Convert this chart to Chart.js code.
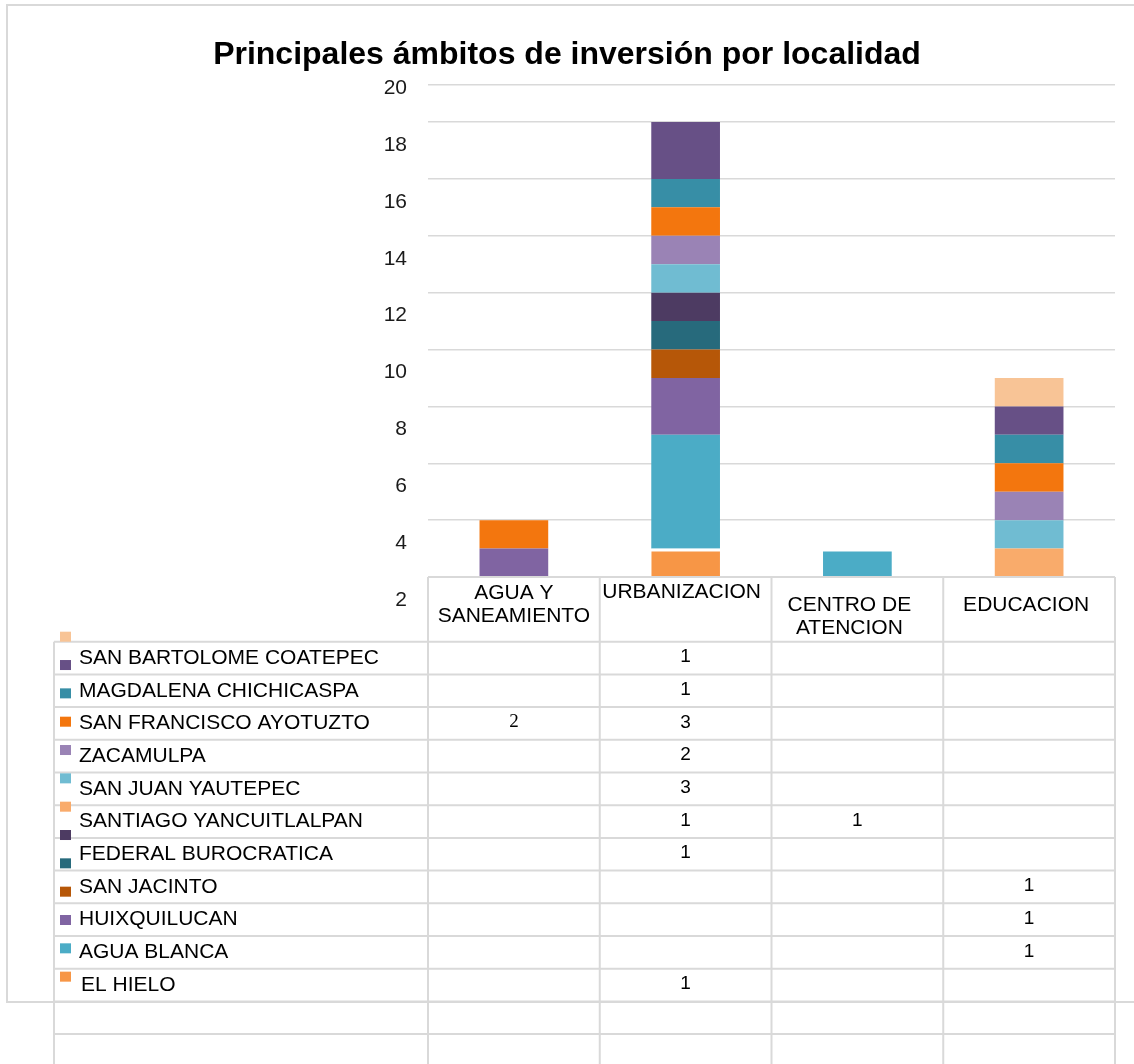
<!DOCTYPE html>
<html>
<head>
<meta charset="utf-8">
<script src="https://cdn.jsdelivr.net/npm/chart.js@4/dist/chart.umd.min.js"></script>
<style>
html,body{margin:0;padding:0;background:#fff;}
#wrap{position:relative;width:1134px;height:1064px;}
</style>
</head>
<body>
<div id="wrap"><canvas id="c" width="1134" height="1064"></canvas></div>
<script>
// ---------- DATA ----------
const categories = [["AGUA Y", "SANEAMIENTO"], ["URBANIZACION"], ["CENTRO DE", "ATENCION"], ["EDUCACION"]];
const yTickValues = [0, 2, 4, 6, 8, 10, 12, 14, 16, 18];
const yTickLabels = ["2", "4", "6", "8", "10", "12", "14", "16", "18", "20"];

// bar series (stack order: bottom first)
const seriesNames = ["EL HIELO", "AGUA BLANCA", "HUIXQUILUCAN", "SAN JACINTO", "FEDERAL BUROCRATICA",
  "SANTIAGO YANCUITLALPAN", "", "SAN JUAN YAUTEPEC", "ZACAMULPA", "SAN FRANCISCO AYOTUZTO",
  "MAGDALENA CHICHICASPA", "SAN BARTOLOME COATEPEC", ""];
const elHielo              = [null, 1, null, null];
const aguaBlanca           = [null, 4, 0.9, null];
const huixquilucan         = [1, 2, null, null];
const sanJacinto           = [null, 1, null, null];
const federalBurocratica   = [null, 1, null, null];
const santiagoYancuitlalpan= [null, 1, null, null];
const sinNombreA           = [null, null, null, 1];
const sanJuanYautepec      = [null, 1, null, 1];
const zacamulpa            = [null, 1, null, 1];
const sanFranciscoAyotuzto = [1, 1, null, 1];
const magdalenaChichicaspa = [null, 1, null, 1];
const sanBartolomeCoatepec = [null, 2, null, 1];
const sinNombreB           = [null, null, null, 1];
const seriesValues = [elHielo, aguaBlanca, huixquilucan, sanJacinto, federalBurocratica,
  santiagoYancuitlalpan, sinNombreA, sanJuanYautepec, zacamulpa, sanFranciscoAyotuzto,
  magdalenaChichicaspa, sanBartolomeCoatepec, sinNombreB];

// data table (text shown under the chart)
const tableRowNames = ["SAN BARTOLOME COATEPEC", "MAGDALENA CHICHICASPA", "SAN FRANCISCO AYOTUZTO",
  "ZACAMULPA", "SAN JUAN YAUTEPEC", "SANTIAGO YANCUITLALPAN", "FEDERAL BUROCRATICA", "SAN JACINTO",
  "HUIXQUILUCAN", "AGUA BLANCA", "EL HIELO", "", ""];
const tblSanBartolome = ["", "1", "", ""];
const tblMagdalena    = ["", "1", "", ""];
const tblSanFrancisco = ["2", "3", "", ""];
const tblZacamulpa    = ["", "2", "", ""];
const tblSanJuan      = ["", "3", "", ""];
const tblSantiago     = ["", "1", "1", ""];
const tblFederal      = ["", "1", "", ""];
const tblSanJacinto   = ["", "", "", "1"];
const tblHuixquilucan = ["", "", "", "1"];
const tblAguaBlanca   = ["", "", "", "1"];
const tblElHielo      = ["", "1", "", ""];
const tblVacia1       = ["", "", "", ""];
const tblVacia2       = ["", "", "", ""];
const tableCells = [tblSanBartolome, tblMagdalena, tblSanFrancisco, tblZacamulpa, tblSanJuan,
  tblSantiago, tblFederal, tblSanJacinto, tblHuixquilucan, tblAguaBlanca, tblElHielo, tblVacia1, tblVacia2];

// ---------- STYLE ----------
const seriesColors = ["#F79646", "#4BACC6", "#8064A2", "#B65708", "#276A7C", "#4D3B62", "#F9AB6B",
  "#70BCD2", "#9A83B5", "#F3760E", "#378EA6", "#675086", "#F8C496"];
const FONT = "'Liberation Sans', Arial, sans-serif";
const GRID = "#D9D9D9";
const topLineValue = 17.33;
const headerTop = [593, 592.5, 605, 605];
const headerShift = [0, -4, -8, -3];
const headerLineH = 23;
const rowTop = 641.7, rowH = 32.7, tableLeft = 54;
const keyTop = 631.7, keyStep = 28.33;

const datasets = seriesValues.map((vals, i) => {
  const ds = {
    label: seriesNames[i] || ("serie " + (i + 1)),
    data: vals,
    backgroundColor: seriesColors[i],
    borderWidth: 0,
    barPercentage: 0.4,
    categoryPercentage: 1.0
  };
  if (i === 0) {
    ds.borderColor = "#ffffff";
    ds.borderWidth = {top: 3, right: 0, bottom: 0, left: 0};
    ds.borderSkipped = false;
  }
  return ds;
});

const tablePlugin = {
  id: 'dataTable',
  beforeDraw(chart) {
    const ctx = chart.ctx;
    ctx.save();
    ctx.strokeStyle = GRID;
    ctx.lineWidth = 2;
    ctx.strokeRect(7, 5, 1160, 997);
    ctx.restore();
  },
  afterDraw(chart) {
    const ctx = chart.ctx;
    const x = chart.scales.x;
    const area = chart.chartArea;
    const n = categories.length;
    const w = (x.right - x.left) / n;
    const bounds = [];
    for (let i = 0; i <= n; i++) bounds.push(x.left + i * w);
    const H = chart.height;
    ctx.save();
    ctx.strokeStyle = GRID;
    ctx.lineWidth = 2;
    ctx.beginPath();
    // header row
    ctx.moveTo(bounds[0], area.bottom); ctx.lineTo(bounds[n], area.bottom);
    bounds.forEach(b => { ctx.moveTo(b, area.bottom); ctx.lineTo(b, rowTop); });
    // rows
    for (let k = 0; k <= tableRowNames.length; k++) {
      const y = rowTop + k * rowH;
      ctx.moveTo(tableLeft, y); ctx.lineTo(bounds[n], y);
    }
    [tableLeft].concat(bounds).forEach(b => { ctx.moveTo(b, rowTop); ctx.lineTo(b, H); });
    ctx.stroke();

    // header texts
    ctx.fillStyle = "#000";
    ctx.font = "21px " + FONT;
    ctx.textAlign = "center";
    ctx.textBaseline = "middle";
    categories.forEach((lines, i) => {
      const cx = x.getPixelForTick(i) + headerShift[i];
      lines.forEach((t, j) => ctx.fillText(t, cx, headerTop[i] + j * headerLineH));
    });

    // legend keys
    const nKeys = datasets.length;
    for (let k = 0; k < nKeys; k++) {
      ctx.fillStyle = seriesColors[nKeys - 1 - k];
      ctx.fillRect(60, keyTop + k * keyStep, 11, 10);
    }

    // row labels & values
    tableRowNames.forEach((name, r) => {
      const cy = rowTop + (r + 0.5) * rowH;
      ctx.fillStyle = "#000";
      ctx.textAlign = "left";
      ctx.font = "21px " + FONT;
      if (name) ctx.fillText(name, name === "EL HIELO" ? 81 : 79, cy);
      tableCells[r].forEach((v, c) => {
        if (!v) return;
        ctx.textAlign = "center";
        ctx.font = c === 0 ? "19px 'Liberation Serif', serif" : "19px " + FONT;
        ctx.fillText(v, x.getPixelForTick(c), cy - 1);
      });
    });
    ctx.restore();
  }
};

new Chart(document.getElementById('c'), {
  type: 'bar',
  data: {labels: categories.map(c => c.join(' ')), datasets},
  plugins: [tablePlugin],
  options: {
    responsive: false,
    animation: false,
    layout: {padding: {left: 19, right: 19, top: 0, bottom: 0}},
    plugins: {
      legend: {display: false},
      tooltip: {enabled: false},
      title: {
        display: true,
        text: "Principales ámbitos de inversión por localidad",
        color: "#000",
        font: {family: FONT, size: 32, weight: 'bold', lineHeight: 0.6},
        padding: {top: 46, bottom: 0}
      }
    },
    scales: {
      x: {
        stacked: true,
        grid: {display: false},
        border: {display: false},
        ticks: {display: false},
        afterFit: s => { s.height = 487; }
      },
      y: {
        stacked: true,
        min: 0,
        max: 18,
        border: {display: false},
        afterBuildTicks: s => {
          s.ticks = yTickValues.map(v => ({value: v}));
          s.ticks.splice(s.ticks.length - 1, 0, {value: topLineValue});
        },
        afterFit: s => { s.width = 409; },
        grid: {
          drawTicks: false,
          lineWidth: 1.5,
          color: c => (c.tick && c.tick.value === 18) ? 'rgba(0,0,0,0)' : GRID
        },
        ticks: {
          autoSkip: false,
          padding: 21,
          labelOffset: 23,
          color: "#1a1a1a",
          font: {family: FONT, size: 21},
          callback: (v) => {
            const i = yTickValues.indexOf(v);
            return i >= 0 ? yTickLabels[i] : '';
          }
        }
      }
    }
  }
});
</script>
</body>
</html>
